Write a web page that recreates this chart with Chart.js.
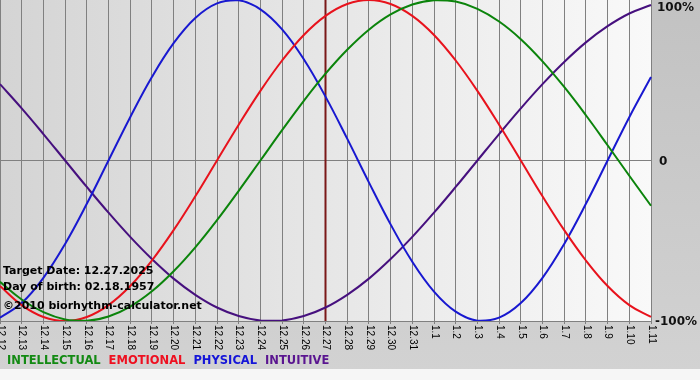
<!DOCTYPE html>
<html><head><meta charset="utf-8">
<script src="https://cdn.jsdelivr.net/npm/chart.js@4/dist/chart.umd.min.js"></script>
<style>html,body{margin:0;padding:0;background:#fff;}canvas{display:block;}</style>
</head><body>
<canvas id="c" width="700" height="380"></canvas>
<script>
const dates = ['12.12','12.13','12.14','12.15','12.16','12.17','12.18','12.19','12.20','12.21','12.22','12.23','12.24','12.25','12.26','12.27','12.28','12.29','12.30','12.31','1.1','1.2','1.3','1.4','1.5','1.6','1.7','1.8','1.9','1.10','1.11'];
const intellectual = [-0.756,-0.866,-0.945,-0.990,-0.999,-0.972,-0.910,-0.815,-0.690,-0.541,-0.372,-0.189,0,0.189,0.372,0.541,0.690,0.815,0.910,0.972,0.999,0.990,0.945,0.866,0.756,0.618,0.458,0.282,0.095,-0.095,-0.282];
const emotional = [-0.782,-0.901,-0.975,-1,-0.975,-0.901,-0.782,-0.623,-0.434,-0.223,0,0.223,0.434,0.623,0.782,0.901,0.975,1,0.975,0.901,0.782,0.623,0.434,0.223,0,-0.223,-0.434,-0.623,-0.782,-0.901,-0.975];
const physical = [-0.979,-0.888,-0.731,-0.520,-0.270,0,0.270,0.520,0.731,0.888,0.979,0.998,0.942,0.817,0.631,0.398,0.136,-0.136,-0.398,-0.631,-0.817,-0.942,-0.998,-0.979,-0.888,-0.731,-0.520,-0.270,0,0.270,0.520];
const intuitive = [0.476,0.325,0.165,0,-0.165,-0.325,-0.476,-0.614,-0.736,-0.837,-0.916,-0.969,-0.997,-0.997,-0.969,-0.916,-0.837,-0.736,-0.614,-0.476,-0.325,-0.165,0,0.165,0.325,0.476,0.614,0.736,0.837,0.916,0.969];
const seriesNames = ['INTELLECTUAL','EMOTIONAL','PHYSICAL','INTUITIVE'];
const yTickValues = [1, 0, -1];
const yTickLabels = ['100%', '0', '-100%'];
const targetDate = '12.27';
const infoLines = ['Target Date: 12.27.2025', 'Day of birth: 02.18.1957', '\u00A92010 biorhythm-calculator.net'];

const colors = ['#0b840b', '#e8121c', '#1818d0', '#46107e'];
const legendColors = ['#138a13', '#ee1020', '#1515d8', '#5a1590'];

const deco = {
  id: 'deco',
  beforeDraw(chart) {
    const ctx = chart.ctx, ca = chart.chartArea;
    ctx.save();
    const g = ctx.createLinearGradient(0, 0, 0, 370);
    g.addColorStop(0, '#c2c2c2');
    g.addColorStop(1, '#d2d2d2');
    ctx.fillStyle = g;
    ctx.fillRect(0, 0, chart.width, 369);
    ctx.fillStyle = '#f6f6f6';
    ctx.fillRect(0, 369, chart.width, chart.height - 369);
    const h = ctx.createLinearGradient(ca.left, 0, ca.right, 0);
    h.addColorStop(0, '#d4d4d4');
    h.addColorStop(1, '#f9f9f9');
    ctx.fillStyle = h;
    ctx.fillRect(ca.left, ca.top, ca.right - ca.left, ca.bottom - ca.top);
    ctx.restore();
  },
  beforeDatasetsDraw(chart) {
    const ctx = chart.ctx, ca = chart.chartArea;
    const x = chart.scales.x.getPixelForValue(dates.indexOf(targetDate));
    ctx.save();
    ctx.strokeStyle = '#7a1818';
    ctx.lineWidth = 2;
    ctx.beginPath();
    ctx.moveTo(x, ca.top);
    ctx.lineTo(x, ca.bottom);
    ctx.stroke();
    ctx.restore();
  },
  afterDraw(chart) {
    const ctx = chart.ctx, ca = chart.chartArea;
    const xs = chart.scales.x, ys = chart.scales.y;
    ctx.save();
    // x labels, rotated clockwise
    ctx.fillStyle = '#000';
    ctx.font = '10px "Liberation Sans", Arial, sans-serif';
    ctx.textAlign = 'left';
    ctx.textBaseline = 'middle';
    dates.forEach((d, i) => {
      const x = xs.getPixelForValue(i);
      ctx.save();
      ctx.translate(x + 0.5, ca.bottom + 4);
      ctx.rotate(Math.PI / 2);
      ctx.fillText(d, 0, 0);
      ctx.restore();
    });
    // y labels on right
    ctx.font = 'bold 12px "DejaVu Sans", Verdana, sans-serif';
    ctx.fillStyle = '#111';
    yTickValues.forEach((v, i) => {
      const y = Math.max(ys.getPixelForValue(v), 7) + 1;
      const lbl = yTickLabels[i];
      const x = v < 0 ? ca.right + 4 : (v > 0 ? ca.right + 6 : ca.right + 8);
      ctx.fillText(lbl, x, y);
    });
    // info text
    ctx.font = 'bold 11px "DejaVu Sans", Verdana, sans-serif';
    ctx.fillStyle = '#000';
    const infoY = [271, 287, 306];
    infoLines.forEach((t, i) => ctx.fillText(t, 3, infoY[i]));
    // legend
    ctx.font = 'bold 11.5px "DejaVu Sans", Verdana, sans-serif';
    let lx = 7;
    chart.data.datasets.forEach((ds, i) => {
      ctx.fillStyle = legendColors[i];
      ctx.fillText(ds.label, lx, 361);
      lx += ctx.measureText(ds.label).width + 8;
    });
    ctx.restore();
  }
};

const mk = (label, data, i) => ({
  label, data, borderColor: colors[i], borderWidth: 2, pointRadius: 0,
  tension: 0.4, fill: false
});

new Chart(document.getElementById('c'), {
  type: 'line',
  data: {
    labels: dates,
    datasets: [
      mk(seriesNames[0], intellectual, 0),
      mk(seriesNames[1], emotional, 1),
      mk(seriesNames[2], physical, 2),
      mk(seriesNames[3], intuitive, 3)
    ]
  },
  options: {
    responsive: false,
    animation: false,
    devicePixelRatio: 1,
    layout: { padding: { left: 0, top: 0, right: 49, bottom: 56 } },
    plugins: { legend: { display: false }, tooltip: { enabled: false } },
    scales: {
      x: {
        type: 'category', offset: false,
        ticks: { display: false },
        grid: { color: '#808080', lineWidth: 1, drawTicks: true, tickLength: 3 },
        border: { display: true, color: '#808080' }
      },
      y: {
        min: -1, max: 1,
        ticks: { display: false },
        afterBuildTicks: (s) => { s.ticks = [{ value: -1 }, { value: 0 }]; },
        grid: { color: '#808080', drawTicks: false },
        border: { display: false }
      }
    }
  },
  plugins: [deco]
});
</script>
</body></html>
